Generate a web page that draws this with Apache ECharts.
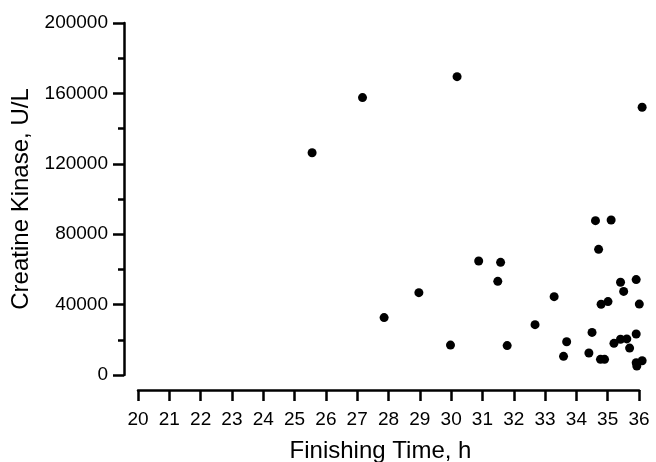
<!DOCTYPE html>
<html>
<head>
<meta charset="utf-8">
<script src="https://cdn.jsdelivr.net/npm/echarts@6/dist/echarts.min.js"></script>
<style>html,body{margin:0;padding:0;background:#fff}#c{width:656px;height:462px}</style>
</head>
<body>
<div id="c"></div>
<script>
var finishTime = [25.56,27.17,30.19,36.1,27.86,28.97,29.98,31.79,30.88,31.58,31.49,32.68,33.29,33.59,33.69,34.4,34.5,34.61,34.71,34.77,34.9,34.79,35.01,35.11,35.2,35.41,35.61,35.41,35.51,35.70,35.91,35.91,36.01,35.91,35.93,36.1];
var creatineKinase = [126300,157600,169500,152100,32600,46800,17000,16700,64800,64000,53200,28600,44500,10600,18900,12500,24200,87700,71400,8900,8900,40200,41700,88100,18000,20300,20500,52700,47500,15300,54200,23300,40300,7000,5100,8100];
var xTicks = {min:20, max:36, interval:1};
var yTicks = {min:0, max:200000, interval:40000};

var pts = finishTime.map(function(x,i){return [x, creatineKinase[i]];});
var FONT = 'Liberation Sans, Arial, sans-serif';
var chart = echarts.init(document.getElementById('c'));
chart.setOption({
  animation:false,
  backgroundColor:'#fff',
  grid:{left:138, right:17, top:23, bottom:87, containLabel:false, outerBoundsMode:'none'},
  xAxis:{
    type:'value', min:xTicks.min, max:xTicks.max, interval:xTicks.interval,
    offset:15,
    name:'Finishing Time, h', nameLocation:'middle', nameGap:49,
    nameTextStyle:{color:'#000', fontSize:24, fontFamily:FONT, padding:[0,16,0,0]},
    axisLine:{show:true, onZero:false, lineStyle:{color:'#000', width:2.5}},
    axisTick:{show:true, length:11, lineStyle:{color:'#000', width:2.5}},
    axisLabel:{color:'#000', fontSize:19, fontFamily:FONT, margin:20},
    splitLine:{show:false}
  },
  yAxis:{
    type:'value', min:yTicks.min, max:yTicks.max, interval:yTicks.interval,
    offset:14,
    name:'Creatine Kinase, U/L', nameLocation:'middle', nameGap:86,
    nameTextStyle:{color:'#000', fontSize:24, fontFamily:FONT},
    axisLine:{show:true, onZero:false, lineStyle:{color:'#000', width:2.5}},
    axisTick:{show:true, length:11, lineStyle:{color:'#000', width:2.5}},
    minorTick:{show:true, splitNumber:2, length:6, lineStyle:{color:'#000', width:2.5}},
    axisLabel:{color:'#000', fontSize:19, fontFamily:FONT, margin:16,
      formatter:function(v){return String(v);}},
    splitLine:{show:false}
  },
  series:[{
    type:'scatter', data:pts, symbol:'circle', symbolSize:9, clip:false,
    itemStyle:{color:'#000', opacity:1}
  }]
});
</script>
</body>
</html>
